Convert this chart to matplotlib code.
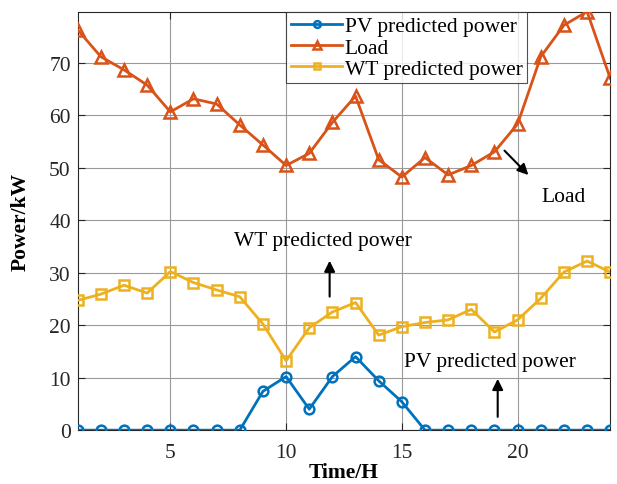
import numpy as np
import matplotlib
matplotlib.use("Agg")
from matplotlib import pyplot as plt

# hourly values
hours = list(range(1, 25))
pv_power = [0, 0, 0, 0, 0, 0, 0, 0, 7.4, 10.2, 4.0, 10.2,
            14.0, 9.4, 5.4, 0, 0, 0, 0, 0, 0, 0, 0, 0]
load = [76.2, 71.1, 68.6, 65.7, 60.6, 63.1, 62.1, 58.1, 54.3, 50.4, 52.7, 58.6,
        63.6, 51.5, 48.2, 51.9, 48.6, 50.4, 53.0, 58.3, 71.1, 77.1, 79.7, 67.0]
wt_power = [24.7, 25.9, 27.6, 26.1, 30.2, 28.1, 26.7, 25.4, 20.2, 13.2, 19.5, 22.5,
            24.3, 18.1, 19.7, 20.5, 21.0, 23.0, 18.7, 21.0, 25.1, 30.1, 32.2, 30.1]
xticks = [5, 10, 15, 20]
yticks = [0, 10, 20, 30, 40, 50, 60, 70]

plt.rcParams["font.family"] = ["Liberation Serif", "DejaVu Serif"]
fs = 15.5

fig = plt.figure(figsize=(6.17, 4.85), dpi=100)
ax = fig.add_axes([0.126, 0.111, 0.863, 0.862])

ax.plot(hours, pv_power, "-o", color="#0072BD", lw=2, ms=7, mfc="none",
        mew=1.8, label="PV predicted power", zorder=3)
ax.plot(hours, load, "-^", color="#D95319", lw=2, ms=9, mfc="none",
        mew=1.8, label="Load", zorder=3)
ax.plot(hours, wt_power, "-s", color="#EDB120", lw=2, ms=6.5, mfc="none",
        mew=1.8, label="WT predicted power", zorder=3)

ax.set_xlim(1, 24)
ax.set_ylim(0, 79.6)
ax.set_xticks(xticks)
ax.set_yticks(yticks)
ax.tick_params(direction="in", labelsize=fs, top=True, right=True,
               length=5, colors="#262626", pad=5)
ax.tick_params(axis="x", pad=9)
ax.grid(True, color="#9a9a9a", lw=0.8)
ax.set_axisbelow(True)
for s in ax.spines.values():
    s.set_color("#262626")
    s.set_linewidth(0.8)

ax.set_xlabel("Time/H", fontsize=fs, fontweight="bold", labelpad=0)
ax.set_ylabel("Power/kW", fontsize=fs, fontweight="bold", labelpad=13)

arrow = dict(arrowstyle="-|>", color="black", lw=1.5, mutation_scale=16)
ax.annotate("", xy=(20.55, 48.2), xytext=(19.35, 53.6), arrowprops=arrow)
ax.text(22.0, 44.4, "Load", fontsize=fs, ha="center", va="center")
ax.annotate("", xy=(11.88, 32.8), xytext=(11.88, 24.9), arrowprops=arrow)
ax.text(11.6, 36.2, "WT predicted power", fontsize=fs, ha="center", va="center")
ax.annotate("", xy=(19.14, 10.3), xytext=(19.14, 2.0), arrowprops=arrow)
ax.text(18.8, 13.1, "PV predicted power", fontsize=fs, ha="center", va="center")

leg = ax.legend(loc="upper left", bbox_to_anchor=(0.392, 1.0), fontsize=fs,
                frameon=True, fancybox=False, edgecolor="#262626",
                borderpad=0.2, labelspacing=0.05, handlelength=2.4,
                handletextpad=0.1, borderaxespad=0, markerscale=0.7)
leg.get_frame().set_linewidth(0.8)

fig.savefig("out.png", dpi=100)
